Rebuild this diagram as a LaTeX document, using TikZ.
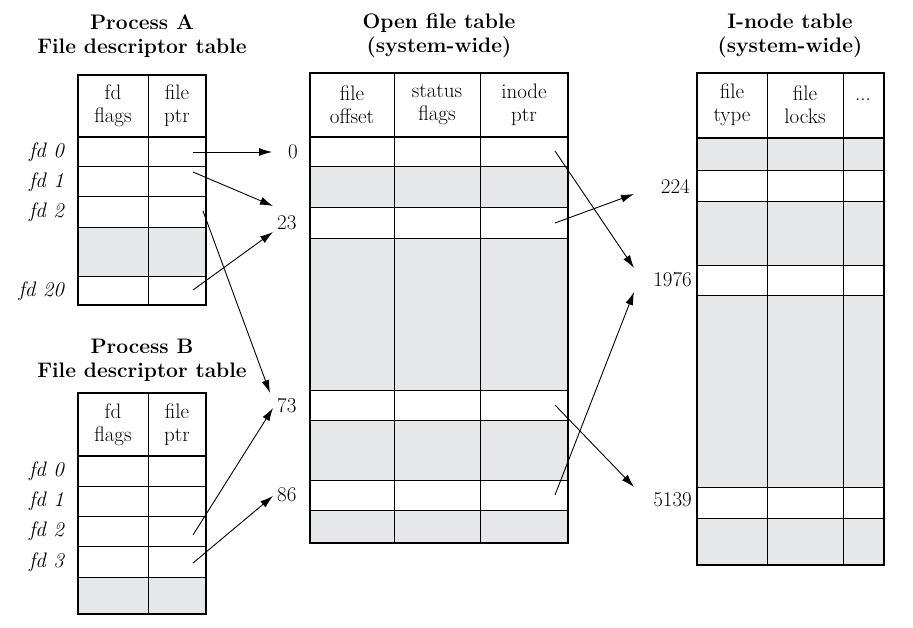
\documentclass[tikz,border=0pt]{standalone}
\usepackage{fontspec}
\usetikzlibrary{arrows.meta}
\definecolor{cellgray}{HTML}{E6E7E8}
\tikzset{
  thin line/.style={line width=0.8pt},
  frame/.style={line width=1.8pt},
  txt/.style={font=\fontsize{21}{23}\selectfont, inner sep=0pt, align=center},
  ttl/.style={font=\fontsize{21}{24}\selectfont\bfseries, inner sep=0pt, align=center},
  fd/.style={font=\fontsize{21}{23}\selectfont\itshape, inner sep=0pt, anchor=east},
  num/.style={font=\fontsize{21}{23}\selectfont, inner sep=1pt},
  ptr/.style={line width=0.9pt, -{Latex[length=13pt,width=8pt]}}
}
\begin{document}
\begin{tikzpicture}[x=1pt,y=-1pt]
\useasboundingbox (0,0) rectangle (913,628);
% ---------- Process A ----------
\node[ttl] (tA) at (142,36) {Process A\\File descriptor table};
\fill[cellgray] (78,227) rectangle (206,276);
\foreach \y in {137,166,196,227,276} \draw[thin line] (78,\y) -- (206,\y);
\draw[thin line] (148,75) -- (148,305);
\draw[frame] (78,75) rectangle (206,305);
\draw[frame] (78,137) -- (206,137);
\node[txt] (ha1) at (113,106) {fd\\flags};
\node[txt] (ha2) at (177,106) {file\\ptr};
\node[fd] (a0) at (64,152) {fd 0};
\node[fd] (a1) at (64,182) {fd 1};
\node[fd] (a2) at (64,212) {fd 2};
\node[fd] (a20) at (64,291) {fd 20};
% ---------- Process B ----------
\node[ttl] (tB) at (142,360) {Process B\\File descriptor table};
\fill[cellgray] (78,577) rectangle (206,614);
\foreach \y in {456,486,516,546,577} \draw[thin line] (78,\y) -- (206,\y);
\draw[thin line] (148,393) -- (148,614);
\draw[frame] (78,393) rectangle (206,614);
\draw[frame] (78,456) -- (206,456);
\node[txt] (hb1) at (113,425) {fd\\flags};
\node[txt] (hb2) at (177,425) {file\\ptr};
\node[fd] (b0) at (64,471) {fd 0};
\node[fd] (b1) at (64,501) {fd 1};
\node[fd] (b2) at (64,531) {fd 2};
\node[fd] (b3) at (64,562) {fd 3};
% ---------- Open file table ----------
\node[ttl] (tO) at (439,36) {Open file table\\(system-wide)};
\fill[cellgray] (310,166) rectangle (568,207);
\fill[cellgray] (310,238) rectangle (568,390);
\fill[cellgray] (310,420) rectangle (568,480);
\fill[cellgray] (310,510) rectangle (568,543);
\foreach \y in {166,207,238,390,420,480,510} \draw[thin line] (310,\y) -- (568,\y);
\draw[thin line] (394,73) -- (394,543);
\draw[thin line] (480,73) -- (480,543);
\draw[frame] (310,73) rectangle (568,543);
\draw[frame] (310,137) -- (568,137);
\node[txt] (ho1) at (352,105) {file\\offset};
\node[txt] (ho2) at (437,105) {status\\flags};
\node[txt] (ho3) at (524,105) {inode\\ptr};
% ---------- I-node table ----------
\node[ttl] (tI) at (790,36) {I-node table\\(system-wide)};
\fill[cellgray] (697,138) rectangle (884,170);
\fill[cellgray] (697,201) rectangle (884,265);
\fill[cellgray] (697,295) rectangle (884,487);
\fill[cellgray] (697,518) rectangle (884,565);
\foreach \y in {170,201,265,295,487,518} \draw[thin line] (697,\y) -- (884,\y);
\draw[thin line] (767,73) -- (767,565);
\draw[thin line] (843,73) -- (843,565);
\draw[frame] (697,73) rectangle (884,565);
\draw[frame] (697,138) -- (884,138);
\node[txt] (hi1) at (732,105) {file\\type};
\node[txt] (hi2) at (805,105) {file\\locks};
\node[txt] (hi3) at (863,100) {...};
% ---------- labels ----------
\node[num, anchor=west] (n0) at (287,152) {0};
\node[num, anchor=west] (n23) at (276,223) {23};
\node[num, anchor=west] (n73) at (276,406) {73};
\node[num, anchor=west] (n86) at (276,495) {86};
\node[num, anchor=east] (n224) at (691,186) {224};
\node[num, anchor=east] (n1976) at (693,280) {1976};
\node[num, anchor=east] (n5139) at (693,500) {5139};
% ---------- pointer origins ----------
\coordinate (pa0) at (193,152);
\coordinate (pa1) at (193,172);
\coordinate (pa2) at (203,211);
\coordinate (pa20) at (193,290);
\coordinate (pb2) at (193,535);
\coordinate (pb3) at (193,563);
\coordinate (po0) at (555,151);
\coordinate (po23) at (555,223);
\coordinate (po73) at (555,405);
\coordinate (po86) at (555,495);
\coordinate (ea0) at (272,152);
\coordinate (ea1) at (273,206);
\coordinate (ea2) at (270,393);
\coordinate (ea20) at (273,232);
\coordinate (eb2) at (273,408);
\coordinate (eb3) at (273,496);
\coordinate (eo0) at (634,268);
\coordinate (eo23) at (634,194);
\coordinate (eo73) at (634,487);
\coordinate (eo86) at (634,292);
% ---------- arrows ----------
\draw[ptr] (pa0) -- (ea0);
\draw[ptr] (pa1) -- (ea1);
\draw[ptr] (pa2) -- (ea2);
\draw[ptr] (pa20) -- (ea20);
\draw[ptr] (pb2) -- (eb2);
\draw[ptr] (pb3) -- (eb3);
\draw[ptr] (po0) -- (eo0);
\draw[ptr] (po23) -- (eo23);
\draw[ptr] (po73) -- (eo73);
\draw[ptr] (po86) -- (eo86);
\end{tikzpicture}
\end{document}
